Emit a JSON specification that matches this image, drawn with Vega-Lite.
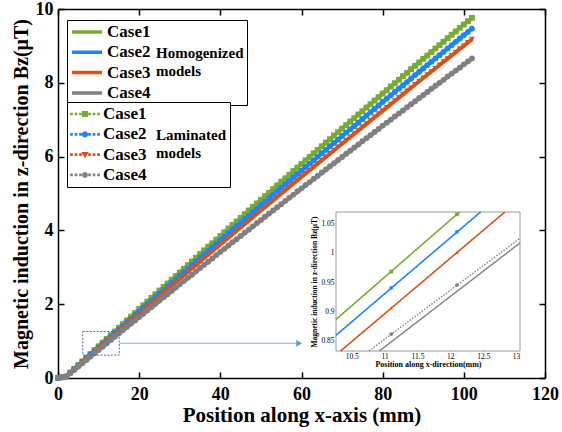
{
  "$schema": "https://vega.github.io/schema/vega-lite/v6.json",
  "width": 487,
  "height": 369,
  "autosize": {"type": "none"},
  "padding": {"left": 58, "top": 9, "right": 17, "bottom": 54},
  "background": "white",
  "config": {
    "view": {"stroke": null},
    "font": "Liberation Serif",
    "axis": {"grid": false, "labelFlush": false, "domainColor": "black", "tickColor": "black", "labelColor": "black", "titleColor": "black", "labelFont": "Liberation Serif", "titleFont": "Liberation Serif"},
    "legend": {"labelFont": "Liberation Serif", "titleFont": "Liberation Serif", "labelFontSize": 17, "labelFontWeight": "bold", "labelColor": "black", "titleFontSize": 15, "titleFontWeight": "bold", "titleColor": "black", "titleOrient": "right", "titleAnchor": "middle", "titleLineHeight": 18, "titlePadding": 6, "strokeColor": "black", "fillColor": "white", "padding": 3, "rowPadding": 2.3, "clipHeight": 18, "symbolSize": 900, "labelOffset": 3, "orient": "none", "legendX": 9}
  },
  "datasets": {
    "lam": [
      {"x":0,"Case1":0,"Case2":0,"Case3":0,"Case4":0},
      {"x":1,"Case1":0.02,"Case2":0.02,"Case3":0.02,"Case4":0.02},
      {"x":2,"Case1":0.04,"Case2":0.04,"Case3":0.04,"Case4":0.04},
      {"x":3,"Case1":0.15,"Case2":0.14,"Case3":0.14,"Case4":0.13},
      {"x":4,"Case1":0.25,"Case2":0.24,"Case3":0.23,"Case4":0.22},
      {"x":5,"Case1":0.35,"Case2":0.34,"Case3":0.33,"Case4":0.31},
      {"x":6,"Case1":0.45,"Case2":0.44,"Case3":0.42,"Case4":0.40},
      {"x":7,"Case1":0.55,"Case2":0.54,"Case3":0.52,"Case4":0.49},
      {"x":8,"Case1":0.65,"Case2":0.63,"Case3":0.61,"Case4":0.58},
      {"x":9,"Case1":0.76,"Case2":0.73,"Case3":0.71,"Case4":0.67},
      {"x":10,"Case1":0.86,"Case2":0.83,"Case3":0.81,"Case4":0.76},
      {"x":11,"Case1":0.96,"Case2":0.93,"Case3":0.90,"Case4":0.85},
      {"x":12,"Case1":1.06,"Case2":1.03,"Case3":1.00,"Case4":0.94},
      {"x":13,"Case1":1.16,"Case2":1.13,"Case3":1.09,"Case4":1.03},
      {"x":14,"Case1":1.26,"Case2":1.22,"Case3":1.19,"Case4":1.12},
      {"x":15,"Case1":1.36,"Case2":1.32,"Case3":1.28,"Case4":1.21},
      {"x":16,"Case1":1.46,"Case2":1.42,"Case3":1.38,"Case4":1.30},
      {"x":17,"Case1":1.56,"Case2":1.52,"Case3":1.47,"Case4":1.39},
      {"x":18,"Case1":1.66,"Case2":1.61,"Case3":1.56,"Case4":1.48},
      {"x":19,"Case1":1.76,"Case2":1.71,"Case3":1.66,"Case4":1.56},
      {"x":20,"Case1":1.87,"Case2":1.81,"Case3":1.75,"Case4":1.65},
      {"x":21,"Case1":1.97,"Case2":1.91,"Case3":1.85,"Case4":1.74},
      {"x":22,"Case1":2.07,"Case2":2.00,"Case3":1.94,"Case4":1.83},
      {"x":23,"Case1":2.17,"Case2":2.10,"Case3":2.04,"Case4":1.92},
      {"x":24,"Case1":2.27,"Case2":2.20,"Case3":2.13,"Case4":2.01},
      {"x":25,"Case1":2.37,"Case2":2.29,"Case3":2.22,"Case4":2.10},
      {"x":26,"Case1":2.47,"Case2":2.39,"Case3":2.32,"Case4":2.19},
      {"x":27,"Case1":2.56,"Case2":2.49,"Case3":2.41,"Case4":2.27},
      {"x":28,"Case1":2.66,"Case2":2.58,"Case3":2.50,"Case4":2.36},
      {"x":29,"Case1":2.76,"Case2":2.68,"Case3":2.60,"Case4":2.45},
      {"x":30,"Case1":2.86,"Case2":2.78,"Case3":2.69,"Case4":2.54},
      {"x":31,"Case1":2.96,"Case2":2.87,"Case3":2.78,"Case4":2.63},
      {"x":32,"Case1":3.06,"Case2":2.97,"Case3":2.88,"Case4":2.72},
      {"x":33,"Case1":3.16,"Case2":3.07,"Case3":2.97,"Case4":2.80},
      {"x":34,"Case1":3.26,"Case2":3.16,"Case3":3.06,"Case4":2.89},
      {"x":35,"Case1":3.36,"Case2":3.26,"Case3":3.16,"Case4":2.98},
      {"x":36,"Case1":3.46,"Case2":3.35,"Case3":3.25,"Case4":3.07},
      {"x":37,"Case1":3.56,"Case2":3.45,"Case3":3.34,"Case4":3.15},
      {"x":38,"Case1":3.65,"Case2":3.54,"Case3":3.43,"Case4":3.24},
      {"x":39,"Case1":3.75,"Case2":3.64,"Case3":3.53,"Case4":3.33},
      {"x":40,"Case1":3.85,"Case2":3.74,"Case3":3.62,"Case4":3.42},
      {"x":41,"Case1":3.95,"Case2":3.83,"Case3":3.71,"Case4":3.50},
      {"x":42,"Case1":4.05,"Case2":3.93,"Case3":3.80,"Case4":3.59},
      {"x":43,"Case1":4.15,"Case2":4.02,"Case3":3.90,"Case4":3.68},
      {"x":44,"Case1":4.24,"Case2":4.12,"Case3":3.99,"Case4":3.76},
      {"x":45,"Case1":4.34,"Case2":4.21,"Case3":4.08,"Case4":3.85},
      {"x":46,"Case1":4.44,"Case2":4.31,"Case3":4.17,"Case4":3.94},
      {"x":47,"Case1":4.54,"Case2":4.40,"Case3":4.26,"Case4":4.02},
      {"x":48,"Case1":4.64,"Case2":4.50,"Case3":4.36,"Case4":4.11},
      {"x":49,"Case1":4.73,"Case2":4.59,"Case3":4.45,"Case4":4.20},
      {"x":50,"Case1":4.83,"Case2":4.69,"Case3":4.54,"Case4":4.28},
      {"x":51,"Case1":4.93,"Case2":4.78,"Case3":4.63,"Case4":4.37},
      {"x":52,"Case1":5.02,"Case2":4.87,"Case3":4.72,"Case4":4.46},
      {"x":53,"Case1":5.12,"Case2":4.97,"Case3":4.81,"Case4":4.54},
      {"x":54,"Case1":5.22,"Case2":5.06,"Case3":4.90,"Case4":4.63},
      {"x":55,"Case1":5.32,"Case2":5.16,"Case3":5.00,"Case4":4.71},
      {"x":56,"Case1":5.41,"Case2":5.25,"Case3":5.09,"Case4":4.80},
      {"x":57,"Case1":5.51,"Case2":5.34,"Case3":5.18,"Case4":4.89},
      {"x":58,"Case1":5.61,"Case2":5.44,"Case3":5.27,"Case4":4.97},
      {"x":59,"Case1":5.70,"Case2":5.53,"Case3":5.36,"Case4":5.06},
      {"x":60,"Case1":5.80,"Case2":5.62,"Case3":5.45,"Case4":5.14},
      {"x":61,"Case1":5.90,"Case2":5.72,"Case3":5.54,"Case4":5.23},
      {"x":62,"Case1":5.99,"Case2":5.81,"Case3":5.63,"Case4":5.31},
      {"x":63,"Case1":6.09,"Case2":5.90,"Case3":5.72,"Case4":5.40},
      {"x":64,"Case1":6.18,"Case2":6.00,"Case3":5.81,"Case4":5.48},
      {"x":65,"Case1":6.28,"Case2":6.09,"Case3":5.90,"Case4":5.57},
      {"x":66,"Case1":6.38,"Case2":6.18,"Case3":5.99,"Case4":5.65},
      {"x":67,"Case1":6.47,"Case2":6.28,"Case3":6.08,"Case4":5.74},
      {"x":68,"Case1":6.57,"Case2":6.37,"Case3":6.17,"Case4":5.82},
      {"x":69,"Case1":6.66,"Case2":6.46,"Case3":6.26,"Case4":5.91},
      {"x":70,"Case1":6.76,"Case2":6.56,"Case3":6.35,"Case4":5.99},
      {"x":71,"Case1":6.85,"Case2":6.65,"Case3":6.44,"Case4":6.08},
      {"x":72,"Case1":6.95,"Case2":6.74,"Case3":6.53,"Case4":6.16},
      {"x":73,"Case1":7.04,"Case2":6.83,"Case3":6.62,"Case4":6.25},
      {"x":74,"Case1":7.14,"Case2":6.92,"Case3":6.71,"Case4":6.33},
      {"x":75,"Case1":7.23,"Case2":7.02,"Case3":6.80,"Case4":6.42},
      {"x":76,"Case1":7.33,"Case2":7.11,"Case3":6.89,"Case4":6.50},
      {"x":77,"Case1":7.42,"Case2":7.20,"Case3":6.98,"Case4":6.58},
      {"x":78,"Case1":7.52,"Case2":7.29,"Case3":7.07,"Case4":6.67},
      {"x":79,"Case1":7.61,"Case2":7.38,"Case3":7.16,"Case4":6.75},
      {"x":80,"Case1":7.71,"Case2":7.48,"Case3":7.24,"Case4":6.84},
      {"x":81,"Case1":7.80,"Case2":7.57,"Case3":7.33,"Case4":6.92},
      {"x":82,"Case1":7.90,"Case2":7.66,"Case3":7.42,"Case4":7.00},
      {"x":83,"Case1":7.99,"Case2":7.75,"Case3":7.51,"Case4":7.09},
      {"x":84,"Case1":8.08,"Case2":7.84,"Case3":7.60,"Case4":7.17},
      {"x":85,"Case1":8.18,"Case2":7.93,"Case3":7.69,"Case4":7.25},
      {"x":86,"Case1":8.27,"Case2":8.02,"Case3":7.78,"Case4":7.34},
      {"x":87,"Case1":8.37,"Case2":8.11,"Case3":7.86,"Case4":7.42},
      {"x":88,"Case1":8.46,"Case2":8.21,"Case3":7.95,"Case4":7.50},
      {"x":89,"Case1":8.55,"Case2":8.30,"Case3":8.04,"Case4":7.59},
      {"x":90,"Case1":8.65,"Case2":8.39,"Case3":8.13,"Case4":7.67},
      {"x":91,"Case1":8.74,"Case2":8.48,"Case3":8.22,"Case4":7.75},
      {"x":92,"Case1":8.83,"Case2":8.57,"Case3":8.30,"Case4":7.84},
      {"x":93,"Case1":8.93,"Case2":8.66,"Case3":8.39,"Case4":7.92},
      {"x":94,"Case1":9.02,"Case2":8.75,"Case3":8.48,"Case4":8.00},
      {"x":95,"Case1":9.11,"Case2":8.84,"Case3":8.57,"Case4":8.08},
      {"x":96,"Case1":9.21,"Case2":8.93,"Case3":8.65,"Case4":8.17},
      {"x":97,"Case1":9.30,"Case2":9.02,"Case3":8.74,"Case4":8.25},
      {"x":98,"Case1":9.39,"Case2":9.11,"Case3":8.83,"Case4":8.33},
      {"x":99,"Case1":9.49,"Case2":9.20,"Case3":8.92,"Case4":8.41},
      {"x":100,"Case1":9.58,"Case2":9.29,"Case3":9.00,"Case4":8.50},
      {"x":101,"Case1":9.67,"Case2":9.38,"Case3":9.09,"Case4":8.58},
      {"x":102,"Case1":9.76,"Case2":9.47,"Case3":9.18,"Case4":8.66}
    ],
    "hom": [
      {"x":0,"Case1":0,"Case2":0,"Case3":0,"Case4":0},
      {"x":2,"Case1":0.04,"Case2":0.04,"Case3":0.04,"Case4":0.03},
      {"x":10,"Case1":0.86,"Case2":0.83,"Case3":0.81,"Case4":0.75},
      {"x":20,"Case1":1.87,"Case2":1.81,"Case3":1.75,"Case4":1.64},
      {"x":30,"Case1":2.86,"Case2":2.78,"Case3":2.69,"Case4":2.53},
      {"x":40,"Case1":3.85,"Case2":3.74,"Case3":3.62,"Case4":3.41},
      {"x":50,"Case1":4.83,"Case2":4.69,"Case3":4.54,"Case4":4.27},
      {"x":60,"Case1":5.80,"Case2":5.62,"Case3":5.45,"Case4":5.13},
      {"x":70,"Case1":6.76,"Case2":6.56,"Case3":6.35,"Case4":5.98},
      {"x":80,"Case1":7.71,"Case2":7.48,"Case3":7.24,"Case4":6.83},
      {"x":90,"Case1":8.65,"Case2":8.39,"Case3":8.13,"Case4":7.66},
      {"x":100,"Case1":9.58,"Case2":9.29,"Case3":9.00,"Case4":8.49},
      {"x":102,"Case1":9.76,"Case2":9.47,"Case3":9.18,"Case4":8.65}
    ],
    "zoomBox": [{"x0": 6.1, "x1": 15.1, "y0": 0.62, "y1": 1.26}],
    "arrow": [{"x0": 15.1, "x1": 58.6, "y": 0.94}],
    "arrowHead": [{"x": 59.4, "y": 0.94}],
    "insetBox": [{"x0": 10.26, "x1": 13.06, "y0": 0.832, "y1": 1.07}],
    "insetLines": [
      {"case":"Case1","model":"Homogenized","x":10.26,"bz":0.886},
      {"case":"Case1","model":"Homogenized","x":12.14,"bz":1.07},
      {"case":"Case2","model":"Homogenized","x":10.26,"bz":0.859},
      {"case":"Case2","model":"Homogenized","x":12.46,"bz":1.07},
      {"case":"Case3","model":"Homogenized","x":10.33,"bz":0.832},
      {"case":"Case3","model":"Homogenized","x":12.83,"bz":1.07},
      {"case":"Case4","model":"Homogenized","x":10.92,"bz":0.832},
      {"case":"Case4","model":"Homogenized","x":13.06,"bz":1.017},
      {"case":"Case1","model":"Laminated","x":10.26,"bz":0.886},
      {"case":"Case1","model":"Laminated","x":12.14,"bz":1.07},
      {"case":"Case2","model":"Laminated","x":10.26,"bz":0.859},
      {"case":"Case2","model":"Laminated","x":12.46,"bz":1.07},
      {"case":"Case3","model":"Laminated","x":10.33,"bz":0.832},
      {"case":"Case3","model":"Laminated","x":12.83,"bz":1.07},
      {"case":"Case4","model":"Laminated","x":10.76,"bz":0.832},
      {"case":"Case4","model":"Laminated","x":13.06,"bz":1.025}
    ],
    "insetPts": [
      {"case":"Case1","x":11.1,"bz":0.968},
      {"case":"Case1","x":12.1,"bz":1.066},
      {"case":"Case2","x":11.1,"bz":0.940},
      {"case":"Case2","x":12.1,"bz":1.036},
      {"case":"Case3","x":11.1,"bz":0.906},
      {"case":"Case3","x":12.1,"bz":1.001},
      {"case":"Case4","x":11.1,"bz":0.861},
      {"case":"Case4","x":12.1,"bz":0.945}
    ]
  },
  "layer": [
    {
      "layer": [
        {
          "data": {"name": "hom"},
          "transform": [{"fold": ["Case1", "Case2", "Case3", "Case4"], "as": ["case", "bz"]}],
          "mark": {"type": "line", "strokeWidth": 4},
          "encoding": {
            "x": {"field": "x", "type": "quantitative", "scale": {"domain": [0, 120], "nice": false, "zero": false},
              "axis": {"orient": "bottom", "values": [0, 20, 40, 60, 80, 100, 120], "tickSize": -6, "tickWidth": 1.5, "domainWidth": 1.5, "labelPadding": 13, "labelFontSize": 18, "labelFontWeight": "bold", "title": "Position along x-axis (mm)", "titleFontSize": 21, "titleFontWeight": "bold", "titlePadding": 1}},
            "y": {"field": "bz", "type": "quantitative", "scale": {"domain": [0, 10], "nice": false},
              "axis": {"orient": "left", "values": [0, 2, 4, 6, 8, 10], "tickSize": -6, "tickWidth": 1.5, "domainWidth": 1.5, "labelPadding": 11, "labelFontSize": 18, "labelFontWeight": "bold", "title": "Magnetic induction in z-direction Bz(μT)", "titleFontSize": 20, "titleFontWeight": "bold", "titlePadding": 4}},
            "color": {"field": "case", "type": "nominal",
              "scale": {"domain": ["Case1", "Case2", "Case3", "Case4"], "range": ["#77AC30", "#1A85FF", "#D95319", "#808080"]},
              "legend": {"title": ["Homogenized", "models"], "orient": "none", "legendX": 9, "legendY": 11, "symbolType": "stroke", "symbolStrokeWidth": 3.5}}
          }
        },
        {
          "data": {"name": "lam"},
          "transform": [{"fold": ["Case1", "Case2", "Case3", "Case4"], "as": ["case", "bz"]}],
          "mark": {"type": "line", "strokeWidth": 2, "strokeDash": [2, 2]},
          "encoding": {
            "x": {"field": "x", "type": "quantitative", "axis": {"orient": "top", "values": [0, 20, 40, 60, 80, 100, 120], "tickSize": -6, "tickWidth": 1.5, "domainWidth": 1.5, "labels": false, "title": null}},
            "y": {"field": "bz", "type": "quantitative", "axis": {"orient": "right", "values": [0, 2, 4, 6, 8, 10], "tickSize": -6, "tickWidth": 1.5, "domainWidth": 1.5, "labels": false, "title": null}},
            "color": {"field": "case", "type": "nominal", "scale": {"domain": ["Case1", "Case2", "Case3", "Case4"], "range": ["#77AC30", "#1A85FF", "#D95319", "#808080"]}, "legend": null}
          }
        },
        {
          "data": {"name": "lam"},
          "transform": [{"fold": ["Case1", "Case2", "Case3", "Case4"], "as": ["case", "bz"]}],
          "mark": {"type": "point", "filled": true, "size": 34, "opacity": 1},
          "encoding": {
            "x": {"field": "x", "type": "quantitative", "axis": null},
            "y": {"field": "bz", "type": "quantitative", "axis": null},
            "shape": {"field": "case", "type": "nominal", "scale": {"domain": ["Case1", "Case2", "Case3", "Case4"], "range": ["square", "circle", "triangle-down", "circle"]}, "legend": null},
            "color": {"field": "case", "type": "nominal", "scale": {"domain": ["Case1", "Case2", "Case3", "Case4"], "range": ["#77AC30", "#1A85FF", "#D95319", "#808080"]}, "legend": null}
          }
        },
        {
          "data": {"name": "lam"},
          "transform": [{"filter": "datum.x === 0"}, {"fold": ["Case1", "Case2", "Case3", "Case4"], "as": ["case", "bz"]}],
          "mark": {"type": "point", "filled": true, "opacity": 0},
          "encoding": {
            "x": {"field": "x", "type": "quantitative", "axis": null},
            "y": {"field": "bz", "type": "quantitative", "axis": null},
            "shape": {"field": "case", "type": "nominal",
              "scale": {"domain": ["Case1", "Case2", "Case3", "Case4"], "range": [
                "M-0.99,-0.09h0.18v0.18h-0.18Z M-0.69,-0.09h0.18v0.18h-0.18Z M-0.39,-0.09h0.18v0.18h-0.18Z M0.21,-0.09h0.18v0.18h-0.18Z M0.51,-0.09h0.18v0.18h-0.18Z M0.81,-0.09h0.18v0.18h-0.18Z M-0.2,-0.2h0.4v0.4h-0.4Z",
                "M-0.99,-0.09h0.18v0.18h-0.18Z M-0.69,-0.09h0.18v0.18h-0.18Z M-0.39,-0.09h0.18v0.18h-0.18Z M0.21,-0.09h0.18v0.18h-0.18Z M0.51,-0.09h0.18v0.18h-0.18Z M0.81,-0.09h0.18v0.18h-0.18Z M-0.21,0a0.21,0.21 0 1,0 0.42,0a0.21,0.21 0 1,0 -0.42,0Z",
                "M-0.99,-0.09h0.18v0.18h-0.18Z M-0.69,-0.09h0.18v0.18h-0.18Z M-0.39,-0.09h0.18v0.18h-0.18Z M0.21,-0.09h0.18v0.18h-0.18Z M0.51,-0.09h0.18v0.18h-0.18Z M0.81,-0.09h0.18v0.18h-0.18Z M-0.25,-0.17h0.5L0,0.25Z",
                "M-0.99,-0.09h0.18v0.18h-0.18Z M-0.69,-0.09h0.18v0.18h-0.18Z M-0.39,-0.09h0.18v0.18h-0.18Z M0.21,-0.09h0.18v0.18h-0.18Z M0.51,-0.09h0.18v0.18h-0.18Z M0.81,-0.09h0.18v0.18h-0.18Z M-0.19,0a0.19,0.19 0 1,0 0.38,0a0.19,0.19 0 1,0 -0.38,0Z"
              ]},
              "legend": {"title": ["Laminated", "models"], "orient": "none", "legendX": 9, "legendY": 93, "titlePadding": 10, "symbolStrokeWidth": 0, "symbolOpacity": 1}},
            "color": {"field": "case", "type": "nominal", "scale": {"domain": ["Case1", "Case2", "Case3", "Case4"], "range": ["#77AC30", "#1A85FF", "#D95319", "#808080"]},
              "legend": {"title": ["Laminated", "models"], "orient": "none", "legendX": 9, "legendY": 93, "titlePadding": 10, "symbolStrokeWidth": 0, "symbolOpacity": 1}}
          }
        },
        {
          "data": {"name": "zoomBox"},
          "mark": {"type": "rect", "fillOpacity": 0, "stroke": "#3F6FB5", "strokeWidth": 1, "strokeDash": [2, 1.5]},
          "encoding": {
            "x": {"field": "x0", "type": "quantitative", "axis": null},
            "x2": {"field": "x1"},
            "y": {"field": "y0", "type": "quantitative", "axis": null},
            "y2": {"field": "y1"}
          }
        },
        {
          "data": {"name": "arrow"},
          "mark": {"type": "rule", "stroke": "#9DC3E6", "strokeWidth": 1.2},
          "encoding": {
            "x": {"field": "x0", "type": "quantitative", "axis": null},
            "x2": {"field": "x1"},
            "y": {"field": "y", "type": "quantitative", "axis": null}
          }
        },
        {
          "data": {"name": "arrowHead"},
          "mark": {"type": "point", "shape": "triangle-right", "filled": true, "color": "#5B9BD5", "size": 45, "opacity": 1},
          "encoding": {
            "x": {"field": "x", "type": "quantitative", "axis": null},
            "y": {"field": "y", "type": "quantitative", "axis": null}
          }
        }
      ],
      "resolve": {"scale": {"color": "independent", "shape": "independent"}, "axis": {"x": "independent", "y": "independent"}}
    },
    {
      "layer": [
        {
          "data": {"name": "insetBox"},
          "mark": {"type": "rect", "fill": "white", "stroke": "#9A9A9A", "strokeWidth": 1},
          "encoding": {
            "x": {"field": "x0", "type": "quantitative", "scale": {"domain": [10.26, 13.06], "range": [278, 462], "nice": false, "zero": false},
              "axis": {"orient": "bottom", "offset": -27, "values": [10.5, 11, 11.5, 12, 12.5, 13], "format": "~g", "domain": false, "tickSize": -2, "tickColor": "#666", "labelPadding": 3, "labelFontSize": 7.5, "labelFontWeight": "normal", "title": "Position along x-direction(mm)", "titleFontSize": 8, "titleFontWeight": "bold", "titlePadding": 1}},
            "x2": {"field": "x1"},
            "y": {"field": "y0", "type": "quantitative", "scale": {"domain": [0.832, 1.07], "range": [342, 203], "nice": false, "zero": false},
              "axis": {"orient": "left", "offset": -278, "values": [0.85, 0.9, 0.95, 1, 1.05], "format": "~g", "domain": false, "tickSize": -2, "tickColor": "#666", "labelPadding": 4, "labelFontSize": 7.5, "labelFontWeight": "normal", "title": "Magnetic induction in z-direction Bz(μT)", "titleFontSize": 7.5, "titleFontWeight": "bold", "titlePadding": 2}},
            "y2": {"field": "y1"}
          }
        },
        {
          "data": {"name": "insetLines"},
          "mark": {"type": "line", "strokeWidth": 1.4},
          "encoding": {
            "x": {"field": "x", "type": "quantitative", "axis": null},
            "y": {"field": "bz", "type": "quantitative", "axis": null},
            "color": {"field": "case", "type": "nominal", "scale": {"domain": ["Case1", "Case2", "Case3", "Case4"], "range": ["#77AC30", "#1A85FF", "#D95319", "#808080"]}, "legend": null},
            "strokeDash": {"field": "model", "type": "nominal", "scale": {"domain": ["Homogenized", "Laminated"], "range": [[1, 0], [1.5, 1.5]]}, "legend": null}
          }
        },
        {
          "data": {"name": "insetPts"},
          "mark": {"type": "point", "filled": true, "size": 14, "opacity": 1},
          "encoding": {
            "x": {"field": "x", "type": "quantitative", "axis": null},
            "y": {"field": "bz", "type": "quantitative", "axis": null},
            "color": {"field": "case", "type": "nominal", "scale": {"domain": ["Case1", "Case2", "Case3", "Case4"], "range": ["#77AC30", "#1A85FF", "#D95319", "#808080"]}, "legend": null},
            "shape": {"field": "case", "type": "nominal", "scale": {"domain": ["Case1", "Case2", "Case3", "Case4"], "range": ["square", "circle", "triangle-up", "circle"]}, "legend": null}
          }
        }
      ],
      "resolve": {"axis": {"x": "independent", "y": "independent"}}
    }
  ],
  "resolve": {
    "scale": {"x": "independent", "y": "independent", "color": "independent", "shape": "independent", "strokeDash": "independent"},
    "axis": {"x": "independent", "y": "independent"}
  }
}
